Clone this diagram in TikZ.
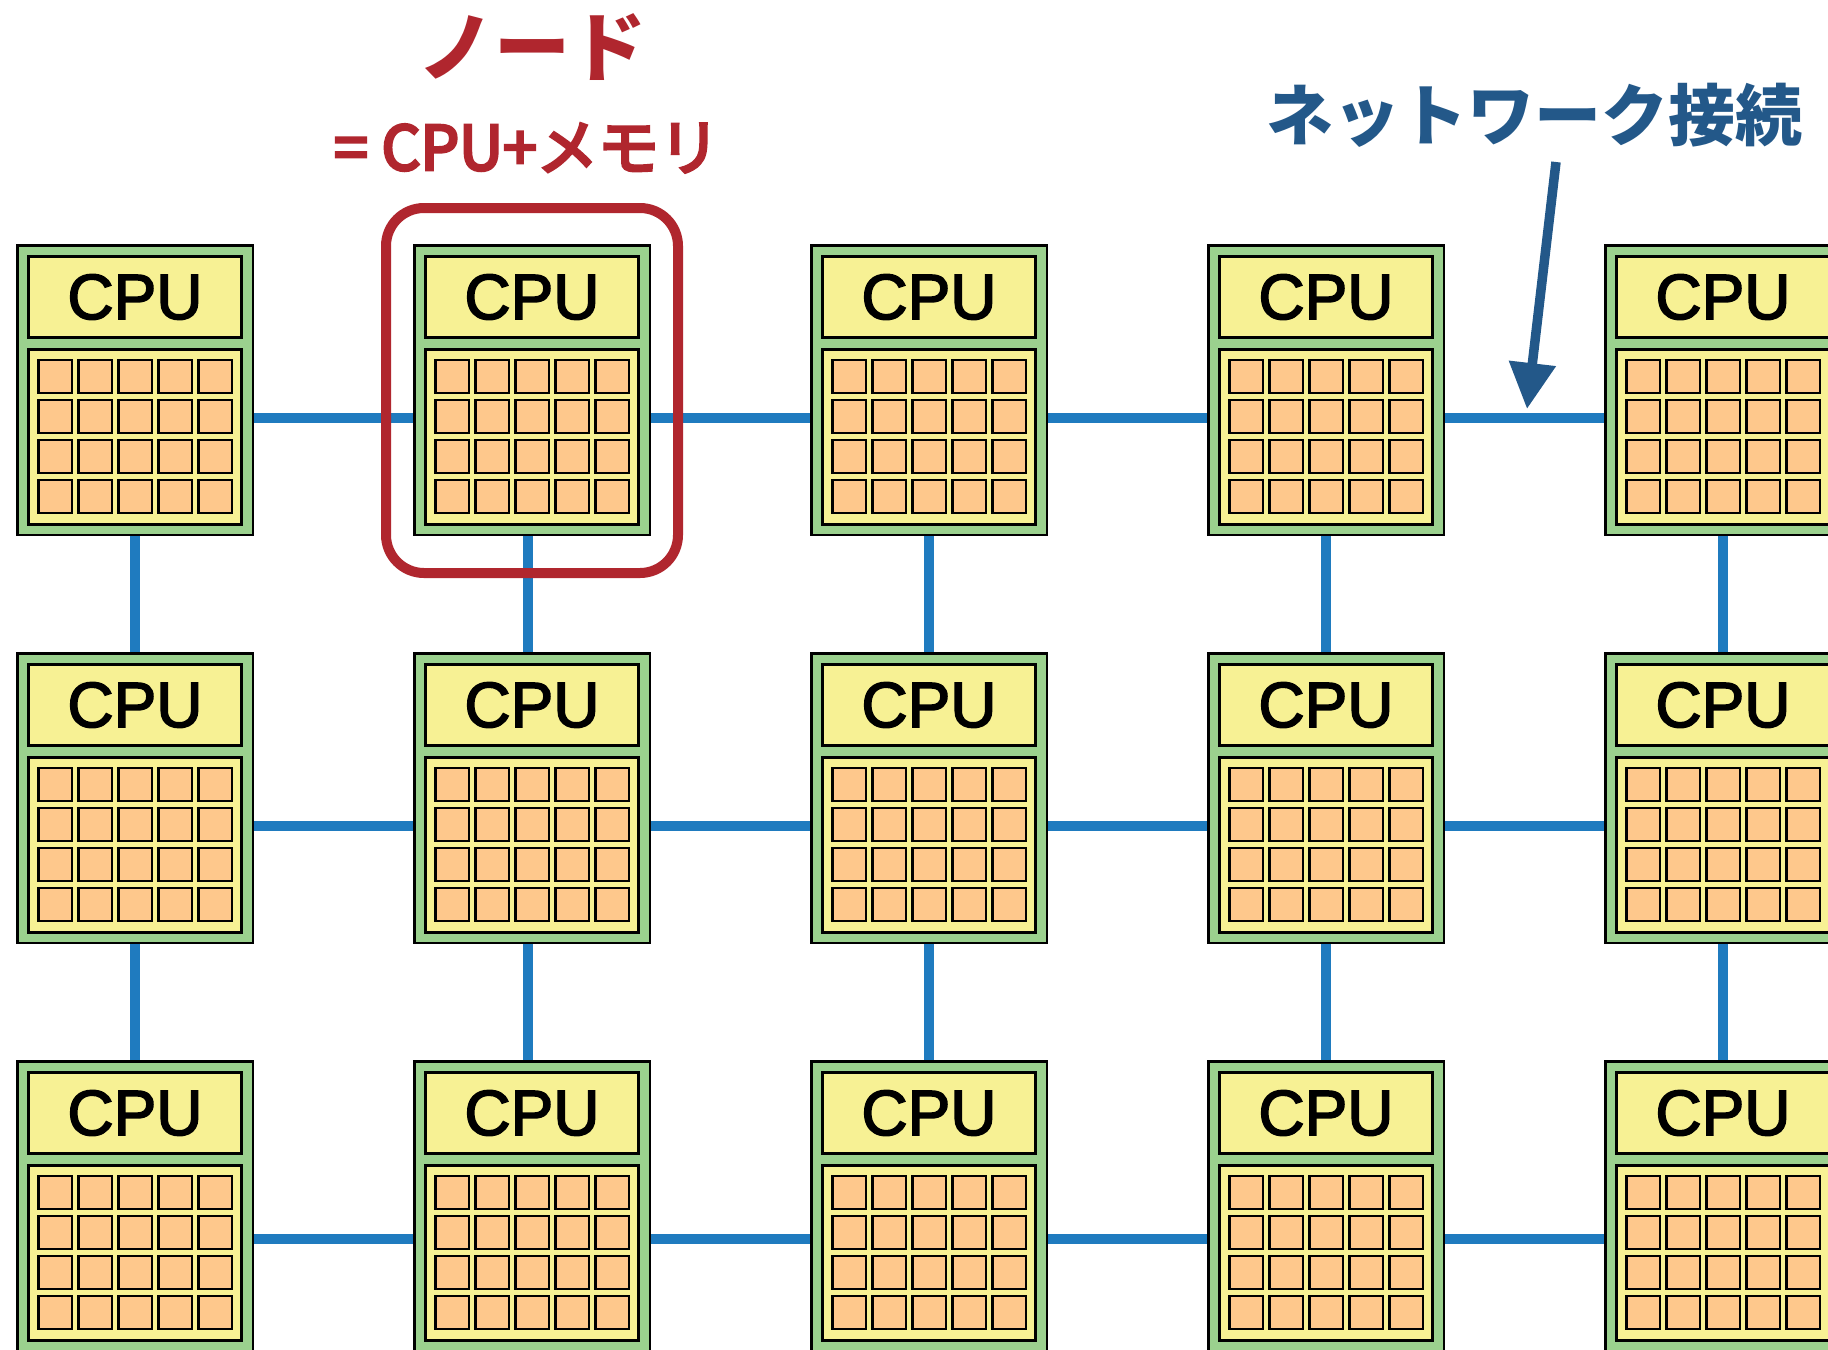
\documentclass[tikz,border=0pt]{standalone}
\usepackage{fontspec}
\usetikzlibrary{arrows.meta,calc}
\setmainfont{Liberation Sans}
\newfontfamily\cpufont[FakeBold=2.5]{Liberation Sans}
\newfontfamily\jpfont{Noto Sans CJK JP}
\newfontfamily\jpmedium[FakeBold=5]{Noto Sans CJK JP}

\definecolor{boardgreen}{RGB}{155,209,142}
\definecolor{chipyellow}{RGB}{247,241,148}
\definecolor{cellorange}{RGB}{254,200,140}
\definecolor{linkblue}{RGB}{31,123,191}
\definecolor{notered}{RGB}{176,38,46}
\definecolor{noteblue}{RGB}{35,88,137}

\begin{document}
\begin{tikzpicture}[x=1pt,y=-1pt,
  board/.style={draw=black, line width=2.5pt, fill=boardgreen,
    minimum width=235.5pt, minimum height=289.5pt, inner sep=0pt},
  cpubox/.style={draw=black, line width=3pt, fill=chipyellow,
    minimum width=213pt, minimum height=81pt, inner sep=0pt,
    font=\cpufont\fontsize{64}{64}\selectfont},
  membox/.style={draw=black, line width=3pt, fill=chipyellow,
    minimum width=213pt, minimum height=175pt, inner sep=0pt},
  cell/.style={draw=black, line width=2.5pt, fill=cellorange,
    minimum width=33.5pt, minimum height=33pt, inner sep=0pt},
  link/.style={draw=linkblue, line width=10.5pt},
  focus/.style={draw=notered, line width=10pt, rounded corners=38pt,
    minimum width=292pt, minimum height=365pt, inner sep=0pt},
  netarrow/.style={draw=noteblue, line width=9.5pt,
    -{Triangle[width=45pt,length=46pt]}}
]
\clip (0,0) rectangle (1828,1349);
\fill[white] (0,0) rectangle (1828,1349);

% 3 x 5 grid of compute nodes: board, CPU label, memory cells
\foreach \r in {1,2,3} {
  \foreach \c in {1,...,5} {
    \pgfmathsetmacro\px{16+397*(\c-1)}
    \pgfmathsetmacro\py{244+408*(\r-1)}
    \node[board] (n\r\c) at (\px+119,\py+146) {};
    \node[cpubox] (n\r\c-cpu) at (\px+119,\py+53) {CPU};
    \node[membox] (n\r\c-mem) at (\px+119,\py+193) {};
    \foreach \i in {0,...,3} {
      \foreach \j in {0,...,4} {
        \node[cell] (n\r\c-m\i\j) at (\px+39+40*\j,\py+132.7+40*\i) {};
      }
    }
  }
}

% horizontal network links
\foreach \r in {1,2,3} {
  \foreach \c [evaluate=\c as \cn using int(\c+1)] in {1,...,4} {
    \pgfmathsetmacro\hoff{\r==3 ? 179 : 174}
    \draw[link] ($(n\r\c.north east)+(0,\hoff)$) -- ($(n\r\cn.north west)+(0,\hoff)$);
  }
}

% vertical network links
\foreach \r [evaluate=\r as \rn using int(\r+1)] in {1,2} {
  \foreach \c in {1,...,5} {
    \pgfmathsetmacro\voff{\c==2 ? -4 : 0}
    \draw[link] ($(n\r\c.south)+(\voff,0)$) -- ($(n\rn\c.north)+(\voff,0)$);
  }
}

% highlighted node with its caption
\node[focus] (focus) at (532,390.5) {};
\node[text=notered, font=\jpfont\bfseries\fontsize{76}{76}\selectfont]
  (title) at (532,47) {ノード};
\node[text=notered, font=\jpmedium\fontsize{61}{61}\selectfont]
  (subtitle) at (527,148) {= CPU+メモリ};

% network label and its pointer
\node[text=noteblue, font=\jpfont\bfseries\fontsize{67}{67}\selectfont]
  (netlabel) at (1534,115) {ネットワーク接続};
\coordinate (arrowtail) at (1556,162);
\coordinate (arrowtip) at (1527,409);
\draw[netarrow] (arrowtail) -- (arrowtip);
\end{tikzpicture}
\end{document}
